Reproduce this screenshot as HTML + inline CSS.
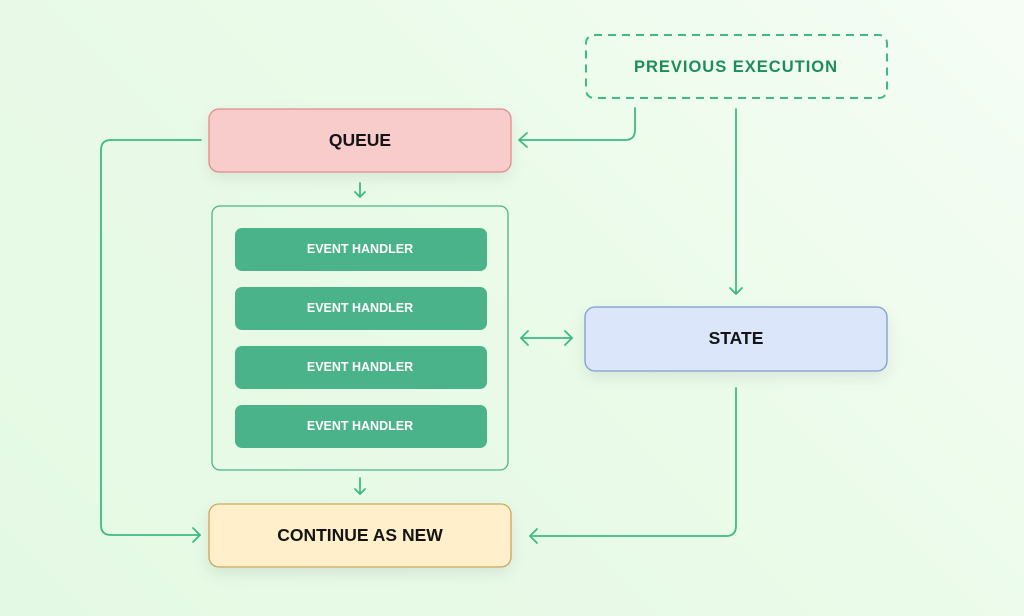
<!DOCTYPE html>
<html><head><meta charset="utf-8"><style>
html,body{margin:0;padding:0;width:1024px;height:616px;overflow:hidden}
body{background:linear-gradient(225deg,#f6fdf5 0%,#eafbe9 45%,#e4f9e3 100%);font-family:"Liberation Sans",sans-serif}
svg text{font-family:"Liberation Sans",sans-serif;font-weight:bold;text-anchor:middle;dominant-baseline:central}
</style></head><body>
<svg width="1024" height="616" viewBox="0 0 1024 616" xmlns="http://www.w3.org/2000/svg">
<defs>
<filter id="sh" x="-10%" y="-20%" width="120%" height="160%"><feDropShadow dx="0" dy="6" stdDeviation="7" flood-color="#000" flood-opacity="0.08"/></filter>
</defs>
<g fill="none" stroke="#3dbb84" stroke-width="1.8" stroke-linecap="round" stroke-linejoin="round">
<path d="M635 108 V130 Q635 140 625 140 H519"/>
<path d="M527 133 L519 140 L527 147"/>
<path d="M201 140 H111 Q101 140 101 150 V525 Q101 535 111 535 H200"/>
<path d="M193 528 L200 535 L193 542"/>
<path d="M360 183 V197"/><path d="M355 192 L360 197 L365 192"/>
<rect x="212" y="206" width="296" height="264" rx="8" stroke="#4bb38a" stroke-width="1.3"/>
<path d="M521 338 H572"/><path d="M528 331 L521 338 L528 345"/><path d="M565 331 L572 338 L565 345"/>
<path d="M736 109 V294"/><path d="M730 288 L736 294 L742 288"/>
<path d="M360 478 V494"/><path d="M355 489 L360 494 L365 489"/>
<path d="M736 388 V526 Q736 536 726 536 H530"/><path d="M537 529 L530 536 L537 543"/>
</g>
<rect x="586" y="35" width="301" height="63" rx="8" fill="none" stroke="#3dbb84" stroke-width="2" stroke-dasharray="8 6"/>
<text x="736" y="67" fill="#1c8c5c" font-size="16.5" letter-spacing="1">PREVIOUS  EXECUTION</text>
<rect x="209" y="109" width="302" height="63" rx="10" fill="#f8cccb" stroke="#df8c8a" stroke-width="1.3" filter="url(#sh)"/>
<text x="360" y="140" fill="#141414" font-size="17.5">QUEUE</text>
<g fill="#4bb38a">
<rect x="235" y="228" width="252" height="43" rx="7"/>
<rect x="235" y="287" width="252" height="43" rx="7"/>
<rect x="235" y="346" width="252" height="43" rx="7"/>
<rect x="235" y="405" width="252" height="43" rx="7"/>
</g>
<g fill="#ffffff" font-size="12.5">
<text x="360" y="249">EVENT HANDLER</text>
<text x="360" y="308">EVENT HANDLER</text>
<text x="360" y="367">EVENT HANDLER</text>
<text x="360" y="426">EVENT HANDLER</text>
</g>
<rect x="585" y="307" width="302" height="64" rx="10" fill="#dbe6fa" stroke="#7f9bd0" stroke-width="1.3" filter="url(#sh)"/>
<text x="736" y="338" fill="#141414" font-size="17.5">STATE</text>
<rect x="209" y="504" width="302" height="63" rx="10" fill="#fff0cb" stroke="#c9a55c" stroke-width="1.3" filter="url(#sh)"/>
<text x="360" y="535" fill="#141414" font-size="17.5">CONTINUE AS NEW</text>
</svg>
</body></html>
